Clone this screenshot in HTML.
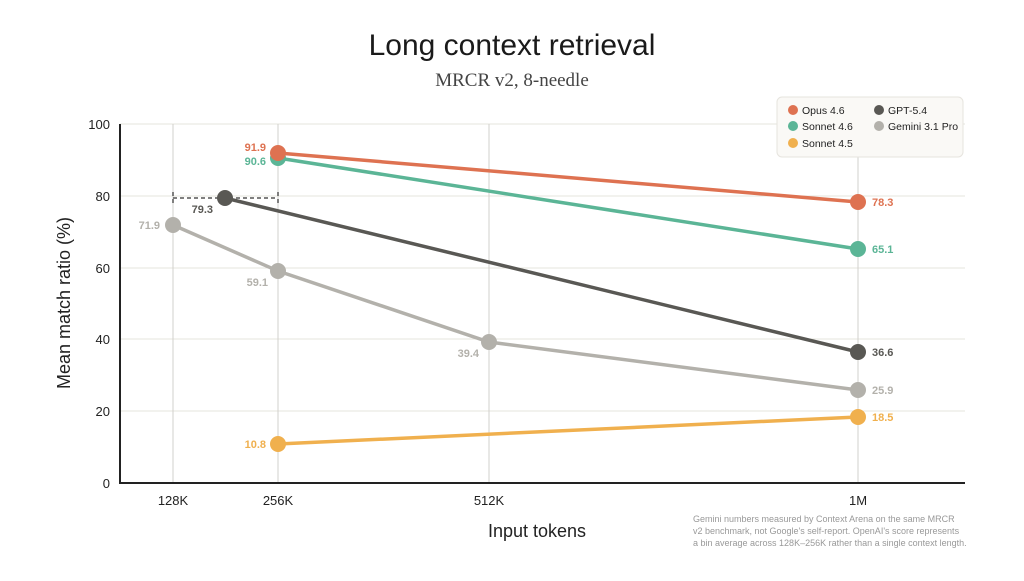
<!DOCTYPE html>
<html><head><meta charset="utf-8"><style>
body{margin:0;background:#fff;}
svg text{font-family:"Liberation Sans",sans-serif;}
</style></head><body>
<svg width="1024" height="576" viewBox="0 0 1024 576" xmlns="http://www.w3.org/2000/svg">
<text x="512" y="55" text-anchor="middle" font-size="30" fill="#1a1a1a">Long context retrieval</text>
<text x="512" y="86" text-anchor="middle" font-size="19" fill="#444" style="font-family:'Liberation Serif',serif">MRCR v2, 8-needle</text>
<g stroke="#e6e4de" stroke-width="1">
<line x1="120" y1="124" x2="965" y2="124"/><line x1="120" y1="196" x2="965" y2="196"/>
<line x1="120" y1="268" x2="965" y2="268"/><line x1="120" y1="339" x2="965" y2="339"/>
<line x1="120" y1="411" x2="965" y2="411"/>
</g>
<g stroke="#d2d0cc" stroke-width="1">
<line x1="173" y1="124" x2="173" y2="483"/><line x1="278" y1="124" x2="278" y2="483"/>
<line x1="489" y1="124" x2="489" y2="483"/><line x1="858" y1="124" x2="858" y2="483"/>
</g>
<line x1="120" y1="124" x2="120" y2="484" stroke="#222" stroke-width="2"/>
<line x1="119" y1="483" x2="965" y2="483" stroke="#222" stroke-width="2"/>
<g font-size="13" fill="#222" text-anchor="end">
<text x="110" y="129">100</text><text x="110" y="201">80</text><text x="110" y="273">60</text>
<text x="110" y="344">40</text><text x="110" y="416">20</text><text x="110" y="488">0</text>
</g>
<g font-size="13" fill="#222" text-anchor="middle">
<text x="173" y="505">128K</text><text x="278" y="505">256K</text><text x="489" y="505">512K</text><text x="858" y="505">1M</text>
</g>
<text x="537" y="537" text-anchor="middle" font-size="18" fill="#222">Input tokens</text>
<text transform="translate(70,303) rotate(-90)" text-anchor="middle" font-size="18" fill="#222">Mean match ratio (%)</text>
<g font-size="9" fill="#999">
<text x="693" y="522">Gemini numbers measured by Context Arena on the same MRCR</text>
<text x="693" y="534">v2 benchmark, not Google's self-report. OpenAI's score represents</text>
<text x="693" y="546">a bin average across 128K–256K rather than a single context length.</text>
</g>
<g stroke="#555" stroke-width="1.5" stroke-dasharray="4,3" fill="none">
<line x1="173" y1="198" x2="278" y2="198"/><line x1="173" y1="192" x2="173" y2="204"/><line x1="278" y1="192" x2="278" y2="204"/>
</g>
<g stroke-width="3.5" fill="none">
<polyline points="173,225 278,271 489,342 858,390" stroke="#b3b1ab"/>
<polyline points="225,198 858,352" stroke="#595854"/>
<polyline points="278,444 858,417" stroke="#f0b04e"/>
<polyline points="278,158 858,249" stroke="#5bb596"/>
<polyline points="278,153 858,202" stroke="#de7251"/>
</g>
<g>
<circle cx="173" cy="225" r="8" fill="#b3b1ab"/><circle cx="278" cy="271" r="8" fill="#b3b1ab"/>
<circle cx="489" cy="342" r="8" fill="#b3b1ab"/><circle cx="858" cy="390" r="8" fill="#b3b1ab"/>
<circle cx="225" cy="198" r="8" fill="#595854"/><circle cx="858" cy="352" r="8" fill="#595854"/>
<circle cx="278" cy="444" r="8" fill="#f0b04e"/><circle cx="858" cy="417" r="8" fill="#f0b04e"/>
<circle cx="278" cy="158" r="8" fill="#5bb596"/><circle cx="858" cy="249" r="8" fill="#5bb596"/>
<circle cx="278" cy="153" r="8" fill="#de7251"/><circle cx="858" cy="202" r="8" fill="#de7251"/>
</g>
<g font-size="11" font-weight="bold">
<text x="266" y="151" text-anchor="end" fill="#de7251">91.9</text>
<text x="266" y="165" text-anchor="end" fill="#5bb596">90.6</text>
<text x="213" y="213" text-anchor="end" fill="#595854">79.3</text>
<text x="160" y="229" text-anchor="end" fill="#b3b1ab">71.9</text>
<text x="268" y="286" text-anchor="end" fill="#b3b1ab">59.1</text>
<text x="479" y="357" text-anchor="end" fill="#b3b1ab">39.4</text>
<text x="266" y="448" text-anchor="end" fill="#f0b04e">10.8</text>
<text x="872" y="206" fill="#de7251">78.3</text>
<text x="872" y="253" fill="#5bb596">65.1</text>
<text x="872" y="356" fill="#595854">36.6</text>
<text x="872" y="394" fill="#b3b1ab">25.9</text>
<text x="872" y="421" fill="#f0b04e">18.5</text>
</g>
<rect x="777" y="97" width="186" height="60" rx="5" fill="#faf9f6" stroke="#e6e4de"/>
<g font-size="10.5" fill="#222">
<circle cx="793" cy="110" r="5" fill="#de7251"/><text x="802" y="114">Opus 4.6</text>
<circle cx="793" cy="126" r="5" fill="#5bb596"/><text x="802" y="130">Sonnet 4.6</text>
<circle cx="793" cy="143" r="5" fill="#f0b04e"/><text x="802" y="147">Sonnet 4.5</text>
<circle cx="879" cy="110" r="5" fill="#595854"/><text x="888" y="114">GPT-5.4</text>
<circle cx="879" cy="126" r="5" fill="#b3b1ab"/><text x="888" y="130">Gemini 3.1 Pro</text>
</g>
</svg>
</body></html>
